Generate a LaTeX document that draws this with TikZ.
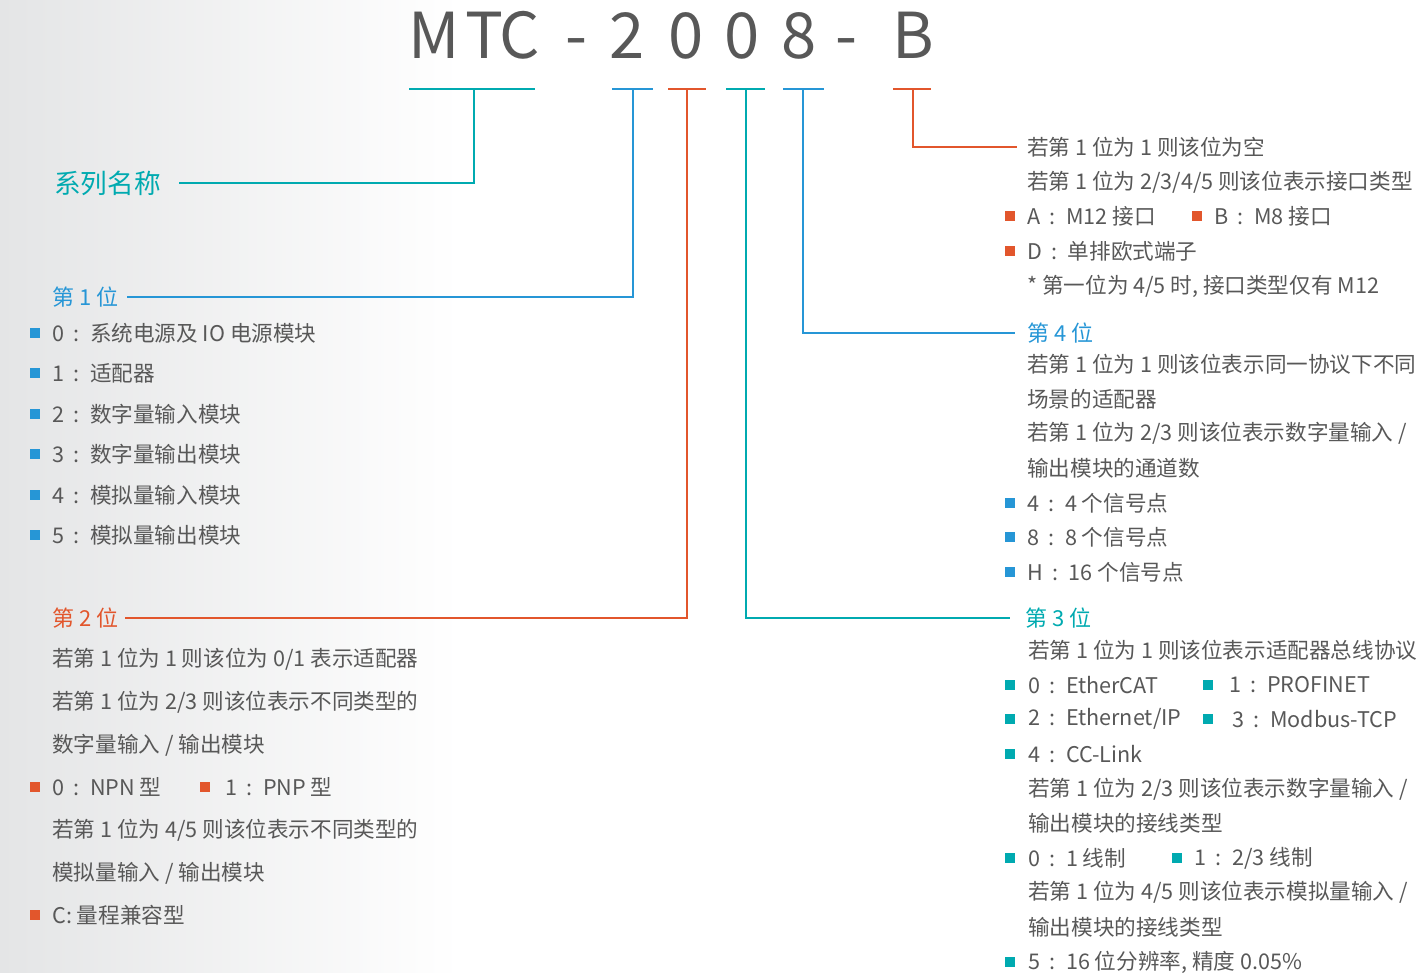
\documentclass[tikz,border=0pt]{standalone}
\usepackage{fontspec}
\setmainfont{Noto Sans CJK SC}
\definecolor{mtcgray}{RGB}{88,88,88}
\definecolor{mtcteal}{RGB}{0,170,176}
\definecolor{mtcblue}{RGB}{38,150,214}
\definecolor{mtcorange}{RGB}{226,86,44}
\definecolor{mtcbg}{RGB}{228,229,230}
\newcommand{\mtccolon}{\hspace{0.42em}:\hspace{0.5em}}
\tikzset{
	txt/.style={anchor=west, inner sep=0pt, text=mtcgray, font=\fontsize{16.2}{19}\selectfont},
	head/.style={anchor=west, inner sep=0pt, text=#1, font=\fontsize{16.5}{19}\selectfont},
	sq/.style={fill=#1, minimum size=6.8pt, inner sep=0pt},
	uline/.style={line width=2.2pt},
	link/.style={line width=0.9pt}
}

\begin{document}
\begin{tikzpicture}[x=0.75pt, y=-0.75pt]
\useasboundingbox (0,0) rectangle (1418,973);
\shade[left color=mtcbg, right color=white] (0,0) rectangle (460,973);

% model code
\foreach \x/\c [count=\i] in {434/M, 484/T, 520/C, 576/-, 627/2, 686/0, 742/0, 799/8, 846/-, 913/B}{
	\node[anchor=base, inner sep=0pt, text=mtcgray, font=\fontsize{47.5}{50}\selectfont] (t\i) at (\x,59) {\c};
}

\draw[uline, mtcteal] (409,89) -- (535,89);
\draw[uline, mtcblue] (612,89) -- (653,89);
\draw[uline, mtcorange] (668,89) -- (706,89);
\draw[uline, mtcteal] (726,89) -- (765,89);
\draw[uline, mtcblue] (783,89) -- (824,89);
\draw[uline, mtcorange] (893,89) -- (931,89);

\coordinate (u0) at (474,89);
\coordinate (u1) at (633,89);
\coordinate (u2) at (687,89);
\coordinate (u3) at (746,89);
\coordinate (u4) at (803,89);
\coordinate (u5) at (913,89);

% series name
\node[anchor=west, inner sep=0pt, text=mtcteal, font=\fontsize{20}{24}\selectfont] (series) at (54,183) {系列名称};
\draw[link, mtcteal] (u0) |- ([xshift=13.5pt]series.east);

% 1st digit
\node[head=mtcblue] (pos1) at (52,297) {第 1 位};
\draw[link, mtcblue] (u1) |- ([xshift=6pt]pos1.east);
\foreach \y/\lbl [count=\i] in {333/{0\mtccolon 系统电源及 IO 电源模块}, 373/{1\mtccolon 适配器}, 414/{2\mtccolon 数字量输入模块}, 454/{3\mtccolon 数字量输出模块}, 495/{4\mtccolon 模拟量输入模块}, 535/{5\mtccolon 模拟量输出模块}}{
	\node[sq=mtcblue] (ba\i) at (35,\y) {};
	\node[txt] (la\i) at (52,\y) {\lbl};
}

% 2nd digit
\node[head=mtcorange] (pos2) at (52,618) {第 2 位};
\draw[link, mtcorange] (u2) |- ([xshift=5pt]pos2.east);
\foreach \y/\lbl [count=\i] in {659/{若第 1 位为 1 则该位为 0/1 表示适配器}, 702/{若第 1 位为 2/3 则该位表示不同类型的}, 745/{数字量输入 / 输出模块}, 830/{若第 1 位为 4/5 则该位表示不同类型的}, 873/{模拟量输入 / 输出模块}}{
	\node[txt] (lb\i) at (52,\y) {\lbl};
}
\foreach \bx/\tx/\y/\lbl [count=\i] in {35/52/787/{0\mtccolon NPN 型}, 205/225/787/{1\mtccolon PNP 型}, 35/52/915/{C: 量程兼容型}}{
	\node[sq=mtcorange] (bb\i) at (\bx,\y) {};
	\node[txt] (kb\i) at (\tx,\y) {\lbl};
}

% last letter
\node[txt] (lc1) at (1027,147) {若第 1 位为 1 则该位为空};
\draw[link, mtcorange] (u5) |- ([xshift=-7.5pt]lc1.west);
\foreach \y/\lbl [count=\i] in {182/{若第 1 位为 2/3/4/5 则该位表示接口类型}, 286/{* 第一位为 4/5 时, 接口类型仅有 M12}}{
	\node[txt] (lc\i2) at (1027,\y) {\lbl};
}
\foreach \bx/\tx/\y/\lbl [count=\i] in {1010/1027/216/{A\mtccolon M12 接口}, 1197/1214/216/{B\mtccolon M8 接口}, 1010/1027/251/{D\mtccolon 单排欧式端子}}{
	\node[sq=mtcorange] (bc\i) at (\bx,\y) {};
	\node[txt] (kc\i) at (\tx,\y) {\lbl};
}

% 4th digit
\node[head=mtcblue] (pos4) at (1027,333) {第 4 位};
\draw[link, mtcblue] (u4) |- ([xshift=-9pt]pos4.west);
\foreach \y/\lbl [count=\i] in {364/{若第 1 位为 1 则该位表示同一协议下不同}, 399/{场景的适配器}, 433/{若第 1 位为 2/3 则该位表示数字量输入 /}, 468/{输出模块的通道数}}{
	\node[txt] (ld\i) at (1027,\y) {\lbl};
}
\foreach \y/\lbl [count=\i] in {503/{4\mtccolon 4 个信号点}, 537/{8\mtccolon 8 个信号点}, 572/{H\mtccolon 16 个信号点}}{
	\node[sq=mtcblue] (bd\i) at (1010,\y) {};
	\node[txt] (kd\i) at (1027,\y) {\lbl};
}

% 3rd digit
\node[head=mtcteal] (pos3) at (1025,618) {第 3 位};
\draw[link, mtcteal] (u3) |- ([xshift=-11pt]pos3.west);
\foreach \y/\lbl [count=\i] in {650/{若第 1 位为 1 则该位表示适配器总线协议}, 789/{若第 1 位为 2/3 则该位表示数字量输入 /}, 823/{输出模块的接线类型}, 892/{若第 1 位为 4/5 则该位表示模拟量输入 /}, 927/{输出模块的接线类型}}{
	\node[txt] (le\i) at (1028,\y) {\lbl};
}
\foreach \bx/\tx/\y/\lbl [count=\i] in {1010/1028/685/{0\mtccolon EtherCAT}, 1208/1229/685/{1\mtccolon PROFINET}, 1010/1028/719/{2\mtccolon Ethernet/IP}, 1208/1232/719/{3\mtccolon Modbus-TCP}, 1010/1028/754/{4\mtccolon CC-Link}, 1010/1028/858/{0\mtccolon 1 线制}, 1177/1194/858/{1\mtccolon 2/3 线制}, 1010/1028/962/{5\mtccolon 16 位分辨率, 精度 0.05\%}}{
	\node[sq=mtcteal] (be\i) at (\bx,\y) {};
	\node[txt] (ke\i) at (\tx,\y) {\lbl};
}
\end{tikzpicture}
\end{document}
